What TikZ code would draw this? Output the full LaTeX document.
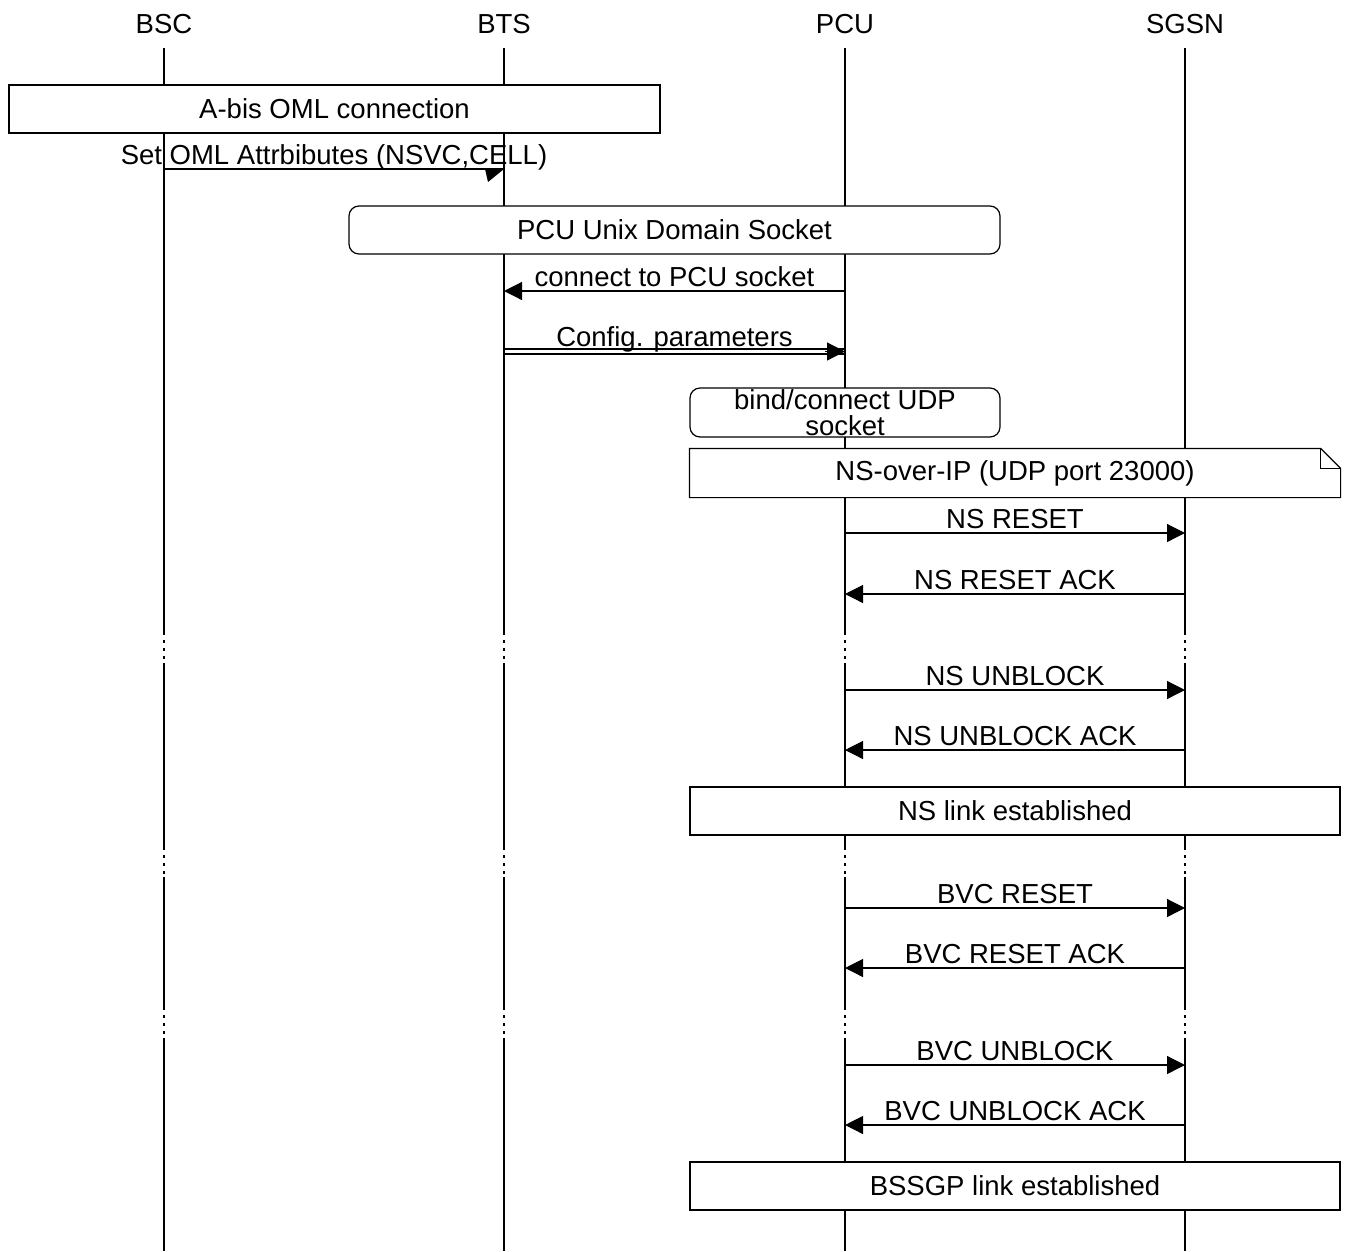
\documentclass[tikz,border=0pt]{standalone}
\usepackage{fontspec}
\setmainfont{Liberation Sans}
\usepackage{tikz}
\usetikzlibrary{arrows.meta,positioning,calc}
\newcommand{\mscfont}{\fontsize{27.5}{24}\selectfont}
\tikzset{
  ent/.style   = {font=\mscfont, anchor=base, inner sep=0pt},
  life/.style  = {line width=1.2pt},
  gapl/.style  = {line width=1.3pt, dash pattern=on 3pt off 5pt},
  msg/.style   = {line width=1.2pt, -{Triangle[length=18pt,width=18pt]}},
  plain/.style = {line width=1.2pt},
  dbl/.style   = {line width=1.1pt},
  mlab/.style  = {font=\mscfont, anchor=base, inner sep=0pt, yshift=5pt},
  box/.style   = {rectangle, draw, fill=white, line width=1.2pt, inner sep=0pt,
                  minimum height=48pt, font=\mscfont, align=center},
  rbox/.style  = {box, rounded corners=10pt},
  notebox/.style = {box, draw=none},
}

\begin{document}
\begin{tikzpicture}[x=1pt, y=-1pt]
  \useasboundingbox (0,0) rectangle (1349,1251);

  % ---- ENTITIES ----
  \node[ent] (bsc)  at (164,33)  {BSC};
  \node[ent] (bts)  at (504,33)  {BTS};
  \node[ent] (pcu)  at (845,33)  {PCU};
  \node[ent] (sgsn) at (1185,33) {SGSN};

  \coordinate (g1)  at (0,632);
  \coordinate (g1e) at (0,663);
  \coordinate (g2)  at (0,847);
  \coordinate (g2e) at (0,877);
  \coordinate (g3)  at (0,1007);
  \coordinate (g3e) at (0,1038);
  \coordinate (bot) at (0,1251);

  % ---- LIFELINES ----
  \draw[life] ([yshift=-15pt]bsc.south) -- (bsc |- g1) (bsc |- g1e) -- (bsc |- g2) (bsc |- g2e) -- (bsc |- g3) (bsc |- g3e) -- (bsc |- bot);
  \draw[life] ([yshift=-15pt]bts.south) -- (bts |- g1) (bts |- g1e) -- (bts |- g2) (bts |- g2e) -- (bts |- g3) (bts |- g3e) -- (bts |- bot);
  \draw[life] ([yshift=-15pt]pcu.south) -- (pcu |- g1) (pcu |- g1e) -- (pcu |- g2) (pcu |- g2e) -- (pcu |- g3) (pcu |- g3e) -- (pcu |- bot);
  \draw[life] ([yshift=-15pt]sgsn.south) -- (sgsn |- g1) (sgsn |- g1e) -- (sgsn |- g2) (sgsn |- g2e) -- (sgsn |- g3) (sgsn |- g3e) -- (sgsn |- bot);
  \draw[gapl] (bsc |- g1) -- (bsc |- g1e) (bsc |- g2) -- (bsc |- g2e) (bsc |- g3) -- (bsc |- g3e);
  \draw[gapl] (bts |- g1) -- (bts |- g1e) (bts |- g2) -- (bts |- g2e) (bts |- g3) -- (bts |- g3e);
  \draw[gapl] (pcu |- g1) -- (pcu |- g1e) (pcu |- g2) -- (pcu |- g2e) (pcu |- g3) -- (pcu |- g3e);
  \draw[gapl] (sgsn |- g1) -- (sgsn |- g1e) (sgsn |- g2) -- (sgsn |- g2e) (sgsn |- g3) -- (sgsn |- g3e);

  % ---- OML ----
  \node[box, minimum width=651pt] (abis) at (334.5,109) {A-bis OML connection};
  \draw[plain] (bsc |- 0,169) -- (bts |- 0,169)
    node[mlab, midway] {Set OML Attrbibutes (NSVC,CELL)};
  \fill ($(bts |- 0,169)+(-19,0)$) -- (bts |- 0,169) -- ($(bts |- 0,169)+(-16,13)$) -- cycle;

  % ---- PCU SOCKET ----
  \node[rbox, minimum width=651pt] (sock) at (674.5,230) {PCU Unix Domain Socket};
  \draw[msg] (pcu |- 0,291) -- (bts |- 0,291)
    node[mlab, midway] {connect to PCU socket};
  \draw[dbl] (bts |- 0,349) -- (pcu |- 0,349)
    node[mlab, midway, yshift=-2pt] {Config. parameters};
  \draw[dbl] (bts |- 0,354) -- (pcu |- 0,354);
  \draw[msg] ($(pcu |- 0,351.5)+(-20,0)$) -- (pcu |- 0,351.5);
  \node[rbox, minimum width=310pt, minimum height=49pt,
        font=\fontsize{27.5}{25.5}\selectfont] (bind) at (845,412.5) {bind/connect UDP\\socket};

  % ---- NS ----
  \node[notebox, minimum width=650pt] (nsip) at (1015,473) {NS-over-IP (UDP port 23000)};
  \draw[plain] (nsip.north west) -- ([xshift=-20pt]nsip.north east) -- ([yshift=-20pt]nsip.north east)
    -- (nsip.south east) -- (nsip.south west) -- cycle;
  \draw[plain] ([xshift=-20pt]nsip.north east) |- ([yshift=-20pt]nsip.north east);
  \draw[msg] (pcu |- 0,533) -- (sgsn |- 0,533) node[mlab, midway] {NS RESET};
  \draw[msg] (sgsn |- 0,594) -- (pcu |- 0,594) node[mlab, midway] {NS RESET ACK};
  \draw[msg] (pcu |- 0,690) -- (sgsn |- 0,690) node[mlab, midway] {NS UNBLOCK};
  \draw[msg] (sgsn |- 0,750) -- (pcu |- 0,750) node[mlab, midway] {NS UNBLOCK ACK};
  \node[box, minimum width=650pt] (nslink) at (1015,811) {NS link established};

  % ---- BSSGP ----
  \draw[msg] (pcu |- 0,908) -- (sgsn |- 0,908) node[mlab, midway] {BVC RESET};
  \draw[msg] (sgsn |- 0,968) -- (pcu |- 0,968) node[mlab, midway] {BVC RESET ACK};
  \draw[msg] (pcu |- 0,1065) -- (sgsn |- 0,1065) node[mlab, midway] {BVC UNBLOCK};
  \draw[msg] (sgsn |- 0,1125) -- (pcu |- 0,1125) node[mlab, midway] {BVC UNBLOCK ACK};
  \node[box, minimum width=650pt] (bssgp) at (1015,1186) {BSSGP link established};
\end{tikzpicture}
\end{document}
